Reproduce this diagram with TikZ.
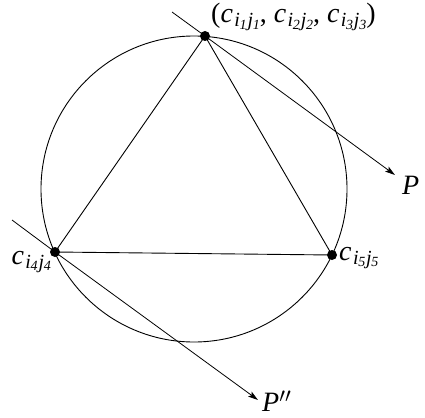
\documentclass[tikz,border=0pt]{standalone}
\usepackage{fontspec}
\setmainfont{Liberation Serif}
\usetikzlibrary{arrows.meta}
\newcommand{\cij}[2]{\textit{c}\kern1.5pt\raisebox{-0.3ex}{\fontsize{20}{20}\selectfont\itshape i\kern-0.3pt\raisebox{-0.28ex}{\fontsize{14}{14}\selectfont #1}\kern0.8pt j\kern-0.3pt\raisebox{-0.28ex}{\fontsize{14}{14}\selectfont #2}}}
\tikzset{
  dot/.style={circle,fill=black,inner sep=0pt,minimum size=10pt},
  lab/.style={inner sep=0pt,font=\fontsize{28}{28}\selectfont},
  edge/.style={line width=0.9pt},
  arr/.style={line width=0.8pt,-{Stealth[length=10pt,width=6pt,inset=2pt]}}
}
\begin{document}
\begin{tikzpicture}[x=1pt,y=-1pt]
\useasboundingbox (0,0) rectangle (425,417);
\draw[edge] (194,189) circle (153);
\node[dot] (A) at (205,36) {};
\node[dot] (B) at (55,252) {};
\node[dot] (C) at (332,255) {};
\draw[edge] (A.center) -- (B.center) -- (C.center) -- cycle;
\coordinate (a0) at (172,12);
\coordinate (P) at (395,175);
\coordinate (b0) at (12,220);
\coordinate (Q) at (258,400);
\draw[arr] (a0) -- (A.center) -- (P);
\draw[arr] (b0) -- (B.center) -- (Q);
\node[lab,anchor=west] (lA) at (211,17) {(\cij{1}{1}, \cij{2}{2}, \cij{3}{3})};
\node[lab,anchor=east] (lB) at (51,262) {\cij{4}{4}};
\node[lab,anchor=west] (lC) at (339,258) {\cij{5}{5}};
\node[lab,anchor=west] (lP) at (402,185) {\textit{P}};
\node[lab,anchor=west] (lQ) at (262,401) {\textit{P}$''$};
\end{tikzpicture}
\end{document}
